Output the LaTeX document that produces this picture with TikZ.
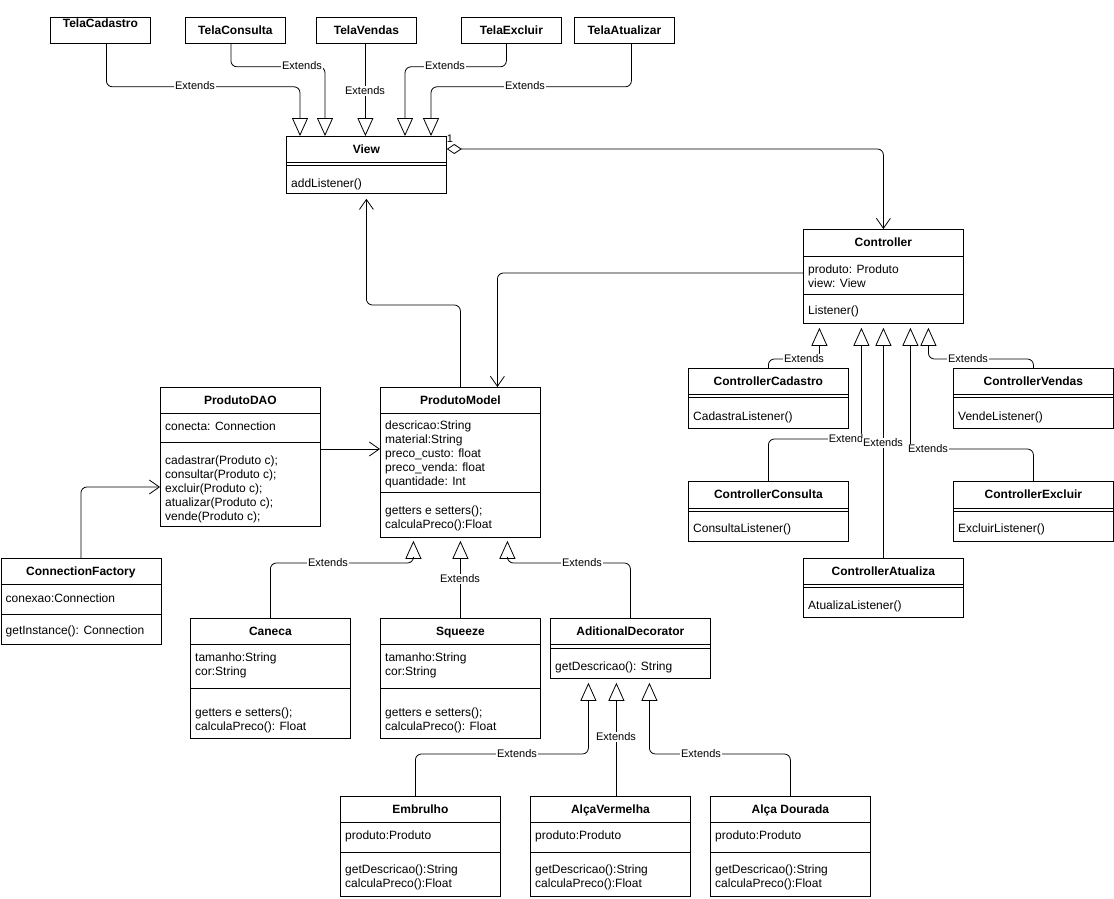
\documentclass[tikz,border=0pt]{standalone}
\usepackage{fontspec}
\setmainfont{Liberation Sans}
\usetikzlibrary{arrows.meta}
\newcommand\umlbox[7]{%
  \node[cls, minimum width=#4pt, minimum height=#5pt, anchor=north west] (#1) at (#2,#3) {};
  \node[ttl] (#1-t) at ([yshift=-#6pt]#1.north) {#7};}
\newcommand\umlsep[2]{\draw[sepl] ([yshift=-#2pt]#1.north west) -- ([yshift=-#2pt]#1.north east);}
\newcommand\umllines[4]{\foreach \tx [count=\i] in {#4}{\node[txt] (#1-#2\i) at ([xshift=5pt,yshift={-(#3+(\i-1)*14)*1pt}]#1.north west) {\tx};}}
\begin{document}
\begin{tikzpicture}[x=1pt,y=-1pt,
  cls/.style={draw, line width=0.8pt, fill=white, inner sep=0pt},
  sepl/.style={line width=0.8pt},
  ttl/.style={font=\bfseries\fontsize{12}{14}\selectfont, anchor=base, inner sep=0pt},
  txt/.style={font=\fontsize{12}{14}\selectfont, anchor=base west, inner sep=0pt},
  lbl/.style={font=\fontsize{11}{13}\selectfont, fill=white, inner sep=0.8pt},
  conn/.style={draw, line width=0.8pt, rounded corners=6pt},
  ext/.style={conn, -{Triangle[open, length=18pt, width=16pt, line join=miter]}},
  opn/.style={conn, -{Straight Barb[length=10pt, width=14pt]}},
  agg/.style={conn, {Diamond[open, length=15pt, width=10pt]}-{Straight Barb[length=10pt, width=14pt]}}]
\fill[white] (0,0) rectangle (1114,899);
\useasboundingbox (0,0) rectangle (1114,899);

% ---- Tela boxes
\umlbox{tcad}{50}{17}{100}{26}{10.5}{TelaCadastro}
\umlbox{tcons}{185}{17}{100}{26}{17.5}{TelaConsulta}
\umlbox{tvend}{316}{17}{100}{26}{17.5}{TelaVendas}
\umlbox{texc}{461}{17}{100}{26}{17.5}{TelaExcluir}
\umlbox{tatu}{574}{17}{100}{26}{17.5}{TelaAtualizar}

% ---- View
\umlbox{view}{286}{136}{160}{57}{17.5}{View}
\umlsep{view}{26}\umlsep{view}{29}
\umllines{view}{m}{51}{addListener()}

% ---- Controller
\umlbox{ctrl}{803}{229}{160}{94}{17.5}{Controller}
\umlsep{ctrl}{27}
\umllines{ctrl}{a}{44}{produto: Produto, view: View}
\umlsep{ctrl}{65}
\umllines{ctrl}{m}{85}{Listener()}

\umlbox{ccad}{688}{368}{160}{60}{17.5}{ControllerCadastro}
\umlsep{ccad}{26}\umlsep{ccad}{29}
\umllines{ccad}{m}{52}{CadastraListener()}
\umlbox{cvend}{953}{368}{160}{60}{17.5}{ControllerVendas}
\umlsep{cvend}{26}\umlsep{cvend}{29}
\umllines{cvend}{m}{52}{VendeListener()}
\umlbox{ccons}{688}{481}{160}{60}{17.5}{ControllerConsulta}
\umlsep{ccons}{27}\umlsep{ccons}{30}
\umllines{ccons}{m}{51}{ConsultaListener()}
\umlbox{cexc}{953}{481}{160}{60}{17.5}{ControllerExcluir}
\umlsep{cexc}{27}\umlsep{cexc}{30}
\umllines{cexc}{m}{51}{ExcluirListener()}
\umlbox{catu}{803}{558}{160}{59}{17.5}{ControllerAtualiza}
\umlsep{catu}{26}\umlsep{catu}{29}
\umllines{catu}{m}{51}{AtualizaListener()}

% ---- DAO / Model / Factory
\umlbox{dao}{160}{387}{160}{139}{17.5}{ProdutoDAO}
\umlsep{dao}{26}
\umllines{dao}{a}{43}{conecta: Connection}
\umlsep{dao}{55}
\umllines{dao}{m}{77}{cadastrar(Produto c);, consultar(Produto c);, excluir(Produto c);, atualizar(Produto c);, vende(Produto c);}

\umlbox{model}{380}{387}{160}{150}{17.5}{ProdutoModel}
\umlsep{model}{26}
\umllines{model}{a}{42}{descricao:String, material:String, preco\_custo: float, preco\_venda: float, quantidade: Int}
\umlsep{model}{105}
\umllines{model}{m}{127}{getters e setters();, calculaPreco():Float}

\umlbox{cf}{0.5}{558}{160}{86}{17.5}{ConnectionFactory}
\umlsep{cf}{26}
\umllines{cf}{a}{44}{conexao:Connection}
\umlsep{cf}{56}
\umllines{cf}{m}{76}{getInstance(): Connection}

% ---- products
\umlbox{caneca}{190}{618}{160}{120}{17.5}{Caneca}
\umlsep{caneca}{26}
\umllines{caneca}{a}{43}{tamanho:String, cor:String}
\umlsep{caneca}{70}
\umllines{caneca}{m}{98}{getters e setters();, calculaPreco(): Float}

\umlbox{squeeze}{380}{618}{160}{120}{17.5}{Squeeze}
\umlsep{squeeze}{26}
\umllines{squeeze}{a}{43}{tamanho:String, cor:String}
\umlsep{squeeze}{70}
\umllines{squeeze}{m}{98}{getters e setters();, calculaPreco(): Float}

\umlbox{ad}{550}{618}{160}{60}{17.5}{AditionalDecorator}
\umlsep{ad}{26}\umlsep{ad}{30}
\umllines{ad}{m}{52}{getDescricao(): String}

\umlbox{emb}{340}{796}{160}{100}{17.5}{Embrulho}
\umlsep{emb}{26}
\umllines{emb}{a}{43}{produto:Produto}
\umlsep{emb}{56}
\umllines{emb}{m}{77}{getDescricao():String, calculaPreco():Float}

\umlbox{av}{530}{796}{160}{100}{17.5}{AlçaVermelha}
\umlsep{av}{26}
\umllines{av}{a}{43}{produto:Produto}
\umlsep{av}{56}
\umllines{av}{m}{77}{getDescricao():String, calculaPreco():Float}

\umlbox{ado}{710}{796}{160}{100}{17.5}{Alça Dourada}
\umlsep{ado}{26}
\umllines{ado}{a}{43}{produto:Produto}
\umlsep{ado}{56}
\umllines{ado}{m}{77}{getDescricao():String, calculaPreco():Float}

% ---- connectors: Tela -> View
\draw[ext] ([xshift=6pt]tcad.south) -- ++(0,43) -| ([xshift=14pt]view.north west);
\draw[ext] ([xshift=-4.5pt]tcons.south) -- ++(0,23) -| ([xshift=39pt]view.north west);
\draw[ext] ([xshift=-1pt]tvend.south) -- ([xshift=-1pt]tvend.south |- view.north);
\draw[ext] ([xshift=-5pt]texc.south) -- ++(0,23) -| ([xshift=119pt]view.north west);
\draw[ext] ([xshift=7pt]tatu.south) -- ++(0,43) -| ([xshift=145pt]view.north west);
\node[lbl] (l1) at (195,86) {Extends};
\node[lbl] (l2) at (302,66) {Extends};
\node[lbl] (l3) at (365,91) {Extends};
\node[lbl] (l4) at (445,66) {Extends};
\node[lbl] (l5) at (525,86) {Extends};

% ---- View <>-> Controller
\draw[agg] ([yshift=-13pt]view.north east) -| (ctrl.north);
\node[font=\fontsize{11}{13}\selectfont, inner sep=0pt] (one) at (450,139) {1};

% ---- Model -> View, Controller -> Model, DAO -> Model, Factory -> DAO
\draw[opn, shorten >=5pt] (model.north) -- ++(0,-82) -| (view.south);
\draw[opn] ([yshift=-44pt]ctrl.north west) -| ([xshift=37pt]model.north);
\draw[opn] ([yshift=-62pt]dao.north east) -- ([yshift=-62pt]model.north west);
\draw[opn] (cf.north) |- ([yshift=-100pt]dao.north west);

% ---- products -> Model
\draw[ext, shorten >=3pt] (caneca.north) -- ++(0,-55) -| ([xshift=-47pt]model.south);
\draw[ext, shorten >=3pt] (squeeze.north) -- (squeeze.north |- model.south);
\draw[ext, shorten >=3pt] (ad.north) -- ++(0,-55) -| ([xshift=47pt]model.south);
\node[lbl] (l6) at (328,563) {Extends};
\node[lbl] (l7) at (460,579) {Extends};
\node[lbl] (l8) at (582,563) {Extends};

% ---- decorators -> AditionalDecorator
\draw[ext, shorten >=4pt] ([xshift=-5pt]emb.north) -- ++(0,-42) -| ([xshift=-42pt]ad.south);
\draw[ext, shorten >=4pt] ([xshift=6pt]av.north) -- ([xshift=-14pt]ad.south);
\draw[ext, shorten >=4pt] (ado.north) -- ++(0,-42) -| ([xshift=19pt]ad.south);
\node[lbl] (l9) at (517,754) {Extends};
\node[lbl] (l10) at (616,737) {Extends};
\node[lbl] (l11) at (701,754) {Extends};

% ---- controllers -> Controller
\draw[ext, shorten >=4pt] (ccad.north) -- ++(0,-9) -| ([xshift=-64pt]ctrl.south);
\draw[ext, shorten >=4pt] (cvend.north) -- ++(0,-9) -| ([xshift=45pt]ctrl.south);
\draw[ext, shorten >=4pt] (ccons.north) -- ++(0,-42) -| ([xshift=-22pt]ctrl.south);
\draw[ext, shorten >=4pt] (catu.north) -- (ctrl.south);
\draw[ext, shorten >=4pt] (cexc.north) -- ++(0,-32) -| ([xshift=27pt]ctrl.south);
\node[lbl] (l12) at (804,359) {Extends};
\node[lbl] (l13) at (968,359) {Extends};
\node[lbl] (l14) at (846,439) {Extend};
\node[lbl] (l15) at (883,443) {Extends};
\node[lbl] (l16) at (928,449) {Extends};
\end{tikzpicture}
\end{document}
